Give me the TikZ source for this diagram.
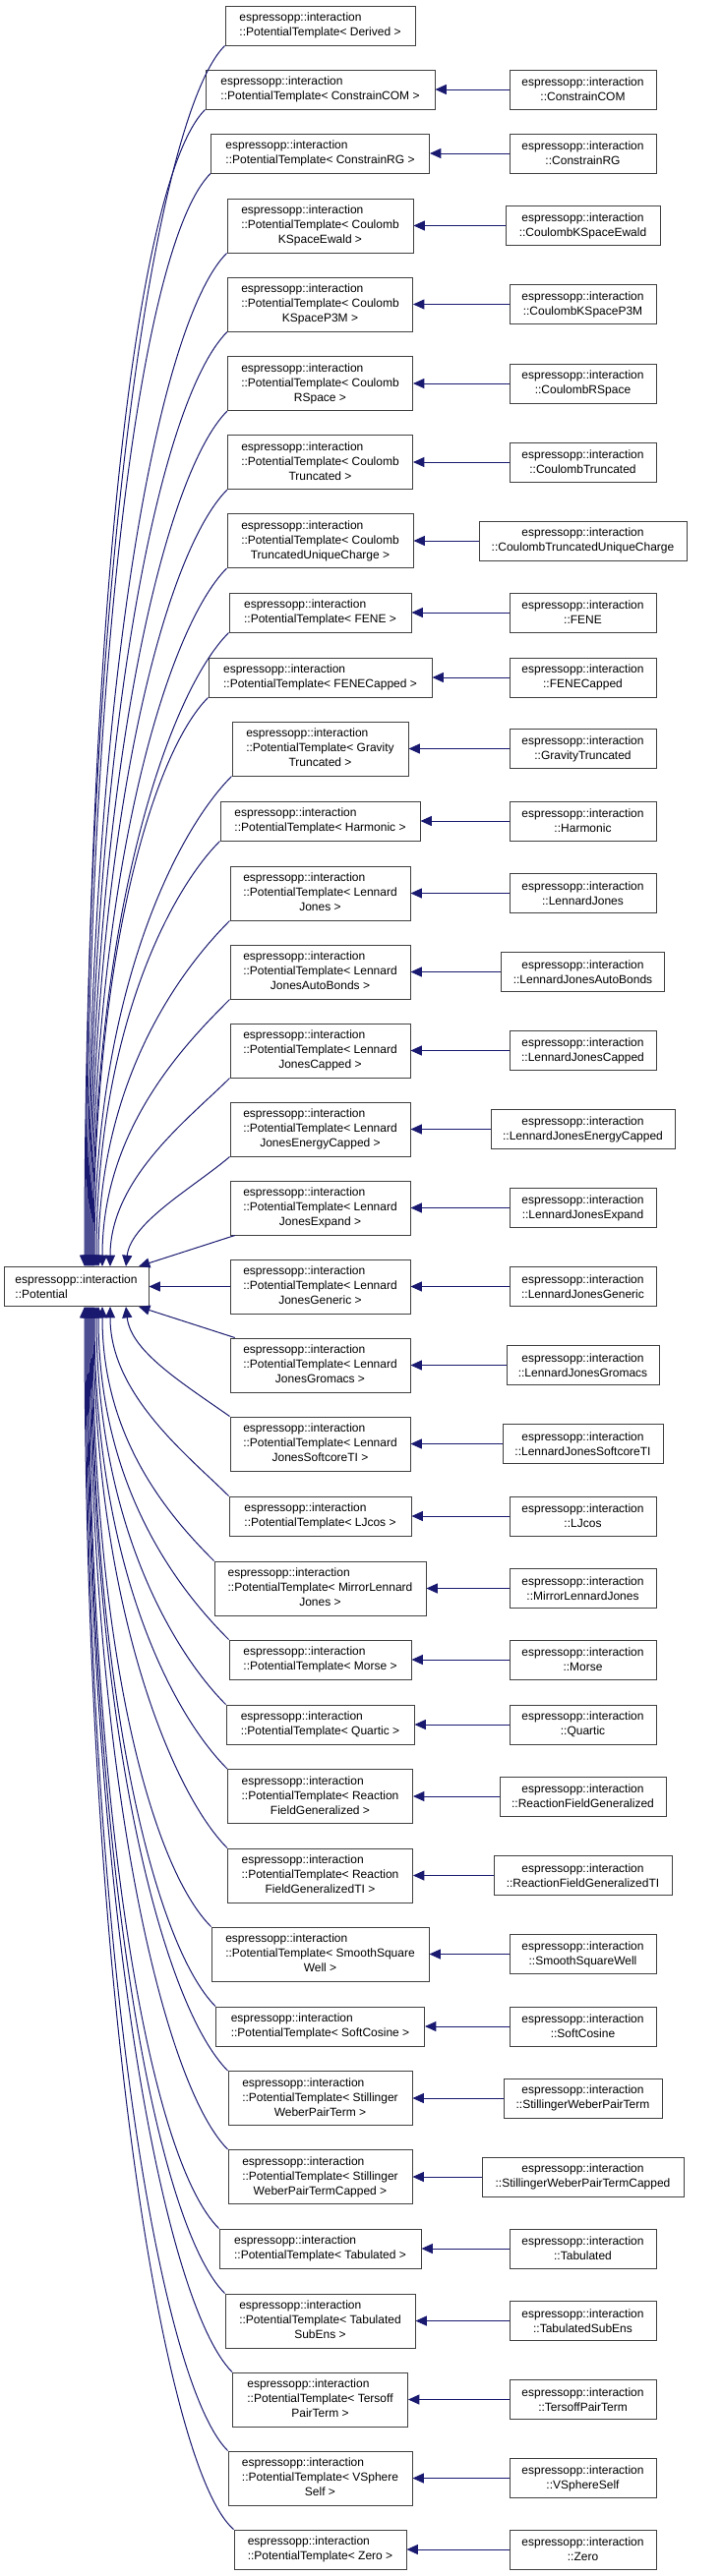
\documentclass[tikz,border=0pt]{standalone}
\usepackage{fontspec}
\setmainfont{Liberation Sans}
\usetikzlibrary{arrows.meta}
\definecolor{cedge}{HTML}{191970}
\definecolor{cframe}{HTML}{404040}
\newcommand{\tplthree}[2]{\begin{tabular}{@{}l@{}}espressopp::interaction\\::PotentialTemplate< #1\\\multicolumn{1}{@{}c@{}}{#2 >}\end{tabular}}
\tikzset{
  every picture/.style={line width=0.75pt},
  base/.style={draw=cframe, fill=white, font=\fontsize{9}{11.25}\selectfont, inner xsep=2pt, inner ysep=1pt},
  tpl/.style={base, align=left, minimum height=30pt, minimum width=0.75pt*#1},
  tplbig/.style={base, minimum height=41.25pt, minimum width=0.75pt*#1},
  leaf/.style={base, align=center, minimum height=30pt, minimum width=0.75pt*#1},
  leaf/.default=149,
  inh/.style={-{Triangle[length=8.5pt, width=7.5pt]}, draw=cedge},
}

\begin{document}
\begin{tikzpicture}[x=0.75pt, y=-0.75pt]
  \useasboundingbox (0,0) rectangle (733,2620);
  % base class
  \node[tpl=147] (root) at (77.5,1308.5) {espressopp::interaction\\::Potential};
  % templates
  \node[tpl=193] (mDerived) at (325.5,26) {espressopp::interaction\\::PotentialTemplate< Derived >};
  \node[tpl=233] (mConstrainCOM) at (325.5,91) {espressopp::interaction\\::PotentialTemplate< ConstrainCOM >};
  \node[tpl=222] (mConstrainRG) at (325.5,156) {espressopp::interaction\\::PotentialTemplate< ConstrainRG >};
  \node[tplbig=189] (mCoulombKSpaceEwald) at (325.5,229.5) {\tplthree{Coulomb}{KSpaceEwald}};
  \node[tplbig=188] (mCoulombKSpaceP3M) at (325.5,309.5) {\tplthree{Coulomb}{KSpaceP3M}};
  \node[tplbig=188] (mCoulombRSpace) at (325.5,390) {\tplthree{Coulomb}{RSpace}};
  \node[tplbig=188] (mCoulombTruncated) at (325.5,470) {\tplthree{Coulomb}{Truncated}};
  \node[tplbig=189] (mCoulombTruncatedUniqueCharge) at (325.5,550) {\tplthree{Coulomb}{TruncatedUniqueCharge}};
  \node[tpl=185] (mFENE) at (325.5,623) {espressopp::interaction\\::PotentialTemplate< FENE >};
  \node[tpl=227] (mFENECapped) at (325.5,689) {espressopp::interaction\\::PotentialTemplate< FENECapped >};
  \node[tplbig=179] (mGravityTruncated) at (325.5,761.5) {\tplthree{Gravity}{Truncated}};
  \node[tpl=203] (mHarmonic) at (325.5,835) {espressopp::interaction\\::PotentialTemplate< Harmonic >};
  \node[tplbig=183] (mLennardJones) at (325.5,908.5) {\tplthree{Lennard}{Jones}};
  \node[tplbig=183] (mLennardJonesAutoBonds) at (325.5,988.5) {\tplthree{Lennard}{JonesAutoBonds}};
  \node[tplbig=183] (mLennardJonesCapped) at (325.5,1068.5) {\tplthree{Lennard}{JonesCapped}};
  \node[tplbig=183] (mLennardJonesEnergyCapped) at (325.5,1148.5) {\tplthree{Lennard}{JonesEnergyCapped}};
  \node[tplbig=183] (mLennardJonesExpand) at (325.5,1228.5) {\tplthree{Lennard}{JonesExpand}};
  \node[tplbig=183] (mLennardJonesGeneric) at (325.5,1308.5) {\tplthree{Lennard}{JonesGeneric}};
  \node[tplbig=183] (mLennardJonesGromacs) at (325.5,1388.5) {\tplthree{Lennard}{JonesGromacs}};
  \node[tplbig=183] (mLennardJonesSoftcoreTI) at (325.5,1468.5) {\tplthree{Lennard}{JonesSoftcoreTI}};
  \node[tpl=185] (mLJcos) at (325.5,1542) {espressopp::interaction\\::PotentialTemplate< LJcos >};
  \node[tplbig=215] (mMirrorLennardJones) at (325.5,1615.5) {\tplthree{MirrorLennard}{Jones}};
  \node[tpl=185] (mMorse) at (325.5,1688) {espressopp::interaction\\::PotentialTemplate< Morse >};
  \node[tpl=191] (mQuartic) at (325.5,1754) {espressopp::interaction\\::PotentialTemplate< Quartic >};
  \node[tplbig=188] (mReactionFieldGeneralized) at (325.5,1827) {\tplthree{Reaction}{FieldGeneralized}};
  \node[tplbig=188] (mReactionFieldGeneralizedTI) at (325.5,1907.5) {\tplthree{Reaction}{FieldGeneralizedTI}};
  \node[tplbig=221] (mSmoothSquareWell) at (325.5,1987.5) {\tplthree{SmoothSquare}{Well}};
  \node[tpl=212] (mSoftCosine) at (325.5,2061) {espressopp::interaction\\::PotentialTemplate< SoftCosine >};
  \node[tplbig=187] (mStillingerWeberPairTerm) at (325.5,2134) {\tplthree{Stillinger}{WeberPairTerm}};
  \node[tplbig=187] (mStillingerWeberPairTermCapped) at (325.5,2214) {\tplthree{Stillinger}{WeberPairTermCapped}};
  \node[tpl=205] (mTabulated) at (325.5,2287) {espressopp::interaction\\::PotentialTemplate< Tabulated >};
  \node[tplbig=193] (mTabulatedSubEns) at (325.5,2360.5) {\tplthree{Tabulated}{SubEns}};
  \node[tplbig=178] (mTersoffPairTerm) at (325.5,2440.5) {\tplthree{Tersoff}{PairTerm}};
  \node[tplbig=187] (mVSphereSelf) at (325.5,2520.5) {\tplthree{VSphere}{Self}};
  \node[tpl=175] (mZero) at (325.5,2593) {espressopp::interaction\\::PotentialTemplate< Zero >};
  % concrete classes
  \node[leaf] (rConstrainCOM) at (592.5,91) {espressopp::interaction\\::ConstrainCOM};
  \node[leaf] (rConstrainRG) at (592.5,156) {espressopp::interaction\\::ConstrainRG};
  \node[leaf=157] (rCoulombKSpaceEwald) at (592.5,229.5) {espressopp::interaction\\::CoulombKSpaceEwald};
  \node[leaf] (rCoulombKSpaceP3M) at (592.5,309.5) {espressopp::interaction\\::CoulombKSpaceP3M};
  \node[leaf] (rCoulombRSpace) at (592.5,390) {espressopp::interaction\\::CoulombRSpace};
  \node[leaf] (rCoulombTruncated) at (592.5,470) {espressopp::interaction\\::CoulombTruncated};
  \node[leaf=211] (rCoulombTruncatedUniqueCharge) at (592.5,550) {espressopp::interaction\\::CoulombTruncatedUniqueCharge};
  \node[leaf] (rFENE) at (592.5,623) {espressopp::interaction\\::FENE};
  \node[leaf] (rFENECapped) at (592.5,689) {espressopp::interaction\\::FENECapped};
  \node[leaf] (rGravityTruncated) at (592.5,761.5) {espressopp::interaction\\::GravityTruncated};
  \node[leaf] (rHarmonic) at (592.5,835) {espressopp::interaction\\::Harmonic};
  \node[leaf] (rLennardJones) at (592.5,908.5) {espressopp::interaction\\::LennardJones};
  \node[leaf=166] (rLennardJonesAutoBonds) at (592.5,988.5) {espressopp::interaction\\::LennardJonesAutoBonds};
  \node[leaf] (rLennardJonesCapped) at (592.5,1068.5) {espressopp::interaction\\::LennardJonesCapped};
  \node[leaf=187] (rLennardJonesEnergyCapped) at (592.5,1148.5) {espressopp::interaction\\::LennardJonesEnergyCapped};
  \node[leaf] (rLennardJonesExpand) at (592.5,1228.5) {espressopp::interaction\\::LennardJonesExpand};
  \node[leaf] (rLennardJonesGeneric) at (592.5,1308.5) {espressopp::interaction\\::LennardJonesGeneric};
  \node[leaf=155] (rLennardJonesGromacs) at (592.5,1388.5) {espressopp::interaction\\::LennardJonesGromacs};
  \node[leaf=163] (rLennardJonesSoftcoreTI) at (592.5,1468.5) {espressopp::interaction\\::LennardJonesSoftcoreTI};
  \node[leaf] (rLJcos) at (592.5,1542) {espressopp::interaction\\::LJcos};
  \node[leaf] (rMirrorLennardJones) at (592.5,1615.5) {espressopp::interaction\\::MirrorLennardJones};
  \node[leaf] (rMorse) at (592.5,1688) {espressopp::interaction\\::Morse};
  \node[leaf] (rQuartic) at (592.5,1754) {espressopp::interaction\\::Quartic};
  \node[leaf=169] (rReactionFieldGeneralized) at (592.5,1827) {espressopp::interaction\\::ReactionFieldGeneralized};
  \node[leaf=181] (rReactionFieldGeneralizedTI) at (592.5,1907.5) {espressopp::interaction\\::ReactionFieldGeneralizedTI};
  \node[leaf] (rSmoothSquareWell) at (592.5,1987.5) {espressopp::interaction\\::SmoothSquareWell};
  \node[leaf] (rSoftCosine) at (592.5,2061) {espressopp::interaction\\::SoftCosine};
  \node[leaf=161] (rStillingerWeberPairTerm) at (592.5,2134) {espressopp::interaction\\::StillingerWeberPairTerm};
  \node[leaf=205] (rStillingerWeberPairTermCapped) at (592.5,2214) {espressopp::interaction\\::StillingerWeberPairTermCapped};
  \node[leaf] (rTabulated) at (592.5,2287) {espressopp::interaction\\::Tabulated};
  \node[leaf] (rTabulatedSubEns) at (592.5,2360.5) {espressopp::interaction\\::TabulatedSubEns};
  \node[leaf] (rTersoffPairTerm) at (592.5,2440.5) {espressopp::interaction\\::TersoffPairTerm};
  \node[leaf] (rVSphereSelf) at (592.5,2520.5) {espressopp::interaction\\::VSphereSelf};
  \node[leaf] (rZero) at (592.5,2593) {espressopp::interaction\\::Zero};
  % concrete -> template
  \draw[inh] (rConstrainCOM) -- (mConstrainCOM);
  \draw[inh] (rConstrainRG) -- (mConstrainRG);
  \draw[inh] (rCoulombKSpaceEwald) -- (mCoulombKSpaceEwald);
  \draw[inh] (rCoulombKSpaceP3M) -- (mCoulombKSpaceP3M);
  \draw[inh] (rCoulombRSpace) -- (mCoulombRSpace);
  \draw[inh] (rCoulombTruncated) -- (mCoulombTruncated);
  \draw[inh] (rCoulombTruncatedUniqueCharge) -- (mCoulombTruncatedUniqueCharge);
  \draw[inh] (rFENE) -- (mFENE);
  \draw[inh] (rFENECapped) -- (mFENECapped);
  \draw[inh] (rGravityTruncated) -- (mGravityTruncated);
  \draw[inh] (rHarmonic) -- (mHarmonic);
  \draw[inh] (rLennardJones) -- (mLennardJones);
  \draw[inh] (rLennardJonesAutoBonds) -- (mLennardJonesAutoBonds);
  \draw[inh] (rLennardJonesCapped) -- (mLennardJonesCapped);
  \draw[inh] (rLennardJonesEnergyCapped) -- (mLennardJonesEnergyCapped);
  \draw[inh] (rLennardJonesExpand) -- (mLennardJonesExpand);
  \draw[inh] (rLennardJonesGeneric) -- (mLennardJonesGeneric);
  \draw[inh] (rLennardJonesGromacs) -- (mLennardJonesGromacs);
  \draw[inh] (rLennardJonesSoftcoreTI) -- (mLennardJonesSoftcoreTI);
  \draw[inh] (rLJcos) -- (mLJcos);
  \draw[inh] (rMirrorLennardJones) -- (mMirrorLennardJones);
  \draw[inh] (rMorse) -- (mMorse);
  \draw[inh] (rQuartic) -- (mQuartic);
  \draw[inh] (rReactionFieldGeneralized) -- (mReactionFieldGeneralized);
  \draw[inh] (rReactionFieldGeneralizedTI) -- (mReactionFieldGeneralizedTI);
  \draw[inh] (rSmoothSquareWell) -- (mSmoothSquareWell);
  \draw[inh] (rSoftCosine) -- (mSoftCosine);
  \draw[inh] (rStillingerWeberPairTerm) -- (mStillingerWeberPairTerm);
  \draw[inh] (rStillingerWeberPairTermCapped) -- (mStillingerWeberPairTermCapped);
  \draw[inh] (rTabulated) -- (mTabulated);
  \draw[inh] (rTabulatedSubEns) -- (mTabulatedSubEns);
  \draw[inh] (rTersoffPairTerm) -- (mTersoffPairTerm);
  \draw[inh] (rVSphereSelf) -- (mVSphereSelf);
  \draw[inh] (rZero) -- (mZero);
  % template -> base, upper half
  \draw[inh] (mDerived.south west) .. controls +(-70,70) and +(0,-700) .. ([shift={(8.5,0)}]root.north);
  \draw[inh] (mConstrainCOM.south west) .. controls +(-70,70) and +(0,-660) .. ([shift={(9.5,0)}]root.north);
  \draw[inh] (mConstrainRG.south west) .. controls +(-70,70) and +(0,-620) .. ([shift={(10.5,0)}]root.north);
  \draw[inh] (mCoulombKSpaceEwald.south west) .. controls +(-70,70) and +(0,-580) .. ([shift={(11.5,0)}]root.north);
  \draw[inh] (mCoulombKSpaceP3M.south west) .. controls +(-70,70) and +(0,-530) .. ([shift={(12.5,0)}]root.north);
  \draw[inh] (mCoulombRSpace.south west) .. controls +(-65,65) and +(0,-490) .. ([shift={(13.5,0)}]root.north);
  \draw[inh] (mCoulombTruncated.south west) .. controls +(-65,65) and +(0,-440) .. ([shift={(14.5,0)}]root.north);
  \draw[inh] (mCoulombTruncatedUniqueCharge.south west) .. controls +(-60,60) and +(0,-400) .. ([shift={(15.5,0)}]root.north);
  \draw[inh] (mFENE.south west) .. controls +(-60,60) and +(0,-360) .. ([shift={(16.5,0)}]root.north);
  \draw[inh] (mFENECapped.south west) .. controls +(-55,55) and +(0,-320) .. ([shift={(17.5,0)}]root.north);
  \draw[inh] (mGravityTruncated.south west) .. controls +(-55,55) and +(0,-280) .. ([shift={(18.5,0)}]root.north);
  \draw[inh] (mHarmonic.south west) .. controls +(-50,50) and +(0,-240) .. ([shift={(20.5,0)}]root.north);
  \draw[inh] (mLennardJones.south west) .. controls +(-50,50) and +(0,-190) .. ([shift={(22.5,0)}]root.north);
  \draw[inh] (mLennardJonesAutoBonds.south west) .. controls +(-45,45) and +(0,-140) .. ([shift={(26.5,0)}]root.north);
  \draw[inh] (mLennardJonesCapped.south west) .. controls +(-40,40) and +(0,-90) .. ([shift={(34.5,0)}]root.north);
  \draw[inh] (mLennardJonesEnergyCapped.south west) .. controls +(-35,30) and +(5,-45) .. ([shift={(50.5,0)}]root.north);
  \draw[inh] (mLennardJonesExpand) -- (root);
  \draw[inh] (mLennardJonesGeneric) -- (root);
  % template -> base, lower half
  \draw[inh] (mLennardJonesGromacs) -- (root);
  \draw[inh] (mLennardJonesSoftcoreTI.north west) .. controls +(-50,-35) and +(5,45) .. ([shift={(50.5,0)}]root.south);
  \draw[inh] (mLJcos.north west) .. controls +(-40,-40) and +(0,90) .. ([shift={(34.5,0)}]root.south);
  \draw[inh] (mMirrorLennardJones.north west) .. controls +(-45,-45) and +(0,135) .. ([shift={(26.5,0)}]root.south);
  \draw[inh] (mMorse.north west) .. controls +(-50,-50) and +(0,185) .. ([shift={(22.5,0)}]root.south);
  \draw[inh] (mQuartic.north west) .. controls +(-50,-50) and +(0,225) .. ([shift={(20.5,0)}]root.south);
  \draw[inh] (mReactionFieldGeneralized.north west) .. controls +(-55,-55) and +(0,265) .. ([shift={(18.5,0)}]root.south);
  \draw[inh] (mReactionFieldGeneralizedTI.north west) .. controls +(-55,-55) and +(0,305) .. ([shift={(17.5,0)}]root.south);
  \draw[inh] (mSmoothSquareWell.north west) .. controls +(-60,-60) and +(0,350) .. ([shift={(16.5,0)}]root.south);
  \draw[inh] (mSoftCosine.north west) .. controls +(-60,-60) and +(0,400) .. ([shift={(15.5,0)}]root.south);
  \draw[inh] (mStillingerWeberPairTerm.north west) .. controls +(-65,-65) and +(0,435) .. ([shift={(14.5,0)}]root.south);
  \draw[inh] (mStillingerWeberPairTermCapped.north west) .. controls +(-65,-65) and +(0,480) .. ([shift={(13.5,0)}]root.south);
  \draw[inh] (mTabulated.north west) .. controls +(-70,-70) and +(0,525) .. ([shift={(12.5,0)}]root.south);
  \draw[inh] (mTabulatedSubEns.north west) .. controls +(-70,-70) and +(0,565) .. ([shift={(11.5,0)}]root.south);
  \draw[inh] (mTersoffPairTerm.north west) .. controls +(-70,-70) and +(0,605) .. ([shift={(10.5,0)}]root.south);
  \draw[inh] (mVSphereSelf.north west) .. controls +(-70,-70) and +(0,650) .. ([shift={(9.5,0)}]root.south);
  \draw[inh] (mZero.north west) .. controls +(-70,-60) and +(0,700) .. ([shift={(8.5,0)}]root.south);
\end{tikzpicture}
\end{document}
